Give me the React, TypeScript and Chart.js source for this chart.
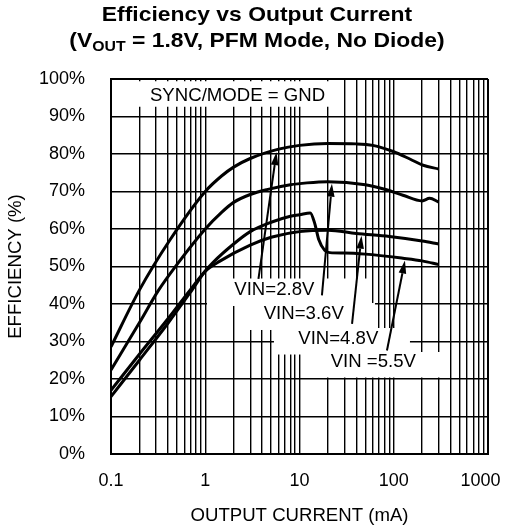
import { useEffect, useRef } from 'react';
import { Chart, registerables } from 'chart.js';

Chart.register(...registerables);

const FONT = '"Liberation Sans", Arial, Helvetica, sans-serif';

// Output current (mA) and efficiency (%) for each input voltage
const current28 = [0.1, 0.2, 0.42, 1, 1.5, 2, 3, 6, 10, 20, 40, 60, 100, 150, 205, 300];
const eff28 = [28.6, 43.7, 57, 70, 74.2, 76.5, 78.8, 81.3, 82.3, 82.8, 82.7, 82.3, 80.6, 78.6, 77, 76];

const current36 = [0.1, 0.2, 0.32, 0.5, 1, 1.5, 2, 3, 4.5, 8, 12, 20, 50, 80, 125, 200, 240, 300];
const eff36 = [22.4, 35, 43.7, 50.5, 60, 64.5, 67.1, 69.2, 70.5, 71.8, 72.3, 72.6, 71.8, 70.6, 69, 67.5, 68.2, 67.2];

const current48 = [0.1, 0.2, 0.4, 0.69, 1, 1.4, 3, 5, 10, 20, 40, 90, 200, 300];
const eff48 = [17, 26.6, 36, 43.7, 48.7, 51.3, 55.7, 57.8, 59.3, 59.7, 58.8, 58, 56.8, 56];

const current55 = [0.1, 0.2, 0.4, 0.69, 1, 1.2, 2, 3, 5, 8, 10, 13, 14.5, 16, 18.5, 21, 30, 50, 125, 200, 300];
const eff55 = [15.3, 25, 34.8, 43, 48.8, 51, 56, 59.3, 61.8, 63.4, 63.8, 64.3, 61.5, 57.2, 54.3, 53.7, 53.6, 53.3, 52.2, 51.5, 50.5];

const seriesNames = ['VIN=2.8V', 'VIN=3.6V', 'VIN=4.8V', 'VIN =5.5V'];
const seriesCurrents = [current28, current36, current48, current55];
const seriesEffs = [eff28, eff36, eff48, eff55];

// Axis ticks
const xLabelValues = [0.1, 1, 10, 100, 1000];
const xLabelTexts = ['0.1', '1', '10', '100', '1000'];
const yTickStep = 10;

// Log grid: 1..9 in every decade, plus the end value
const xGridValues: number[] = [];
for (let d = 0; d < 4; d++) {
  for (let m = 1; m <= 9; m++) xGridValues.push(Number((m * Math.pow(10, d - 1)).toPrecision(3)));
}
xGridValues.push(1000);

// Notes inside the plot, placed in data units: [mA, %]
const noteTexts = ['SYNC/MODE = GND', 'VIN=2.8V', 'VIN=3.6V', 'VIN=4.8V', 'VIN =5.5V'];
const noteAt = [
  [2.2, 95.6],
  [5.41, 43.65],
  [11.1, 37.41],
  [25.8, 30.75],
  [60.7, 24.53],
];
// White panels behind the notes: [mA from, mA to, % top, % bottom]
const notePanels = [
  [0.184, 25, 99.4, 92.6],
  [1.044, 56, 46.8, 39.47],
  [2.34, 63.2, 40.27, 33.07],
  [5.36, 148.6, 33.6, 26.53],
  [16.5, 358, 27.2, 20.4],
];
// Pointer arrows from each VIN note to its curve: [tail mA, tail %, tip mA, tip %]
const pointers = [
  [3.67, 46.7, 5.7, 80.5],
  [17.3, 42.3, 22.1, 72.1],
  [36.1, 34.7, 45.5, 58.2],
  [84.7, 27.6, 131.5, 51.6],
];

const notesPlugin = {
  id: 'notes',
  beforeDatasetsDraw(chart: any) {
    const { ctx, scales } = chart;
    const x = scales.x;
    const y = scales.y;
    ctx.save();
    ctx.fillStyle = '#fff';
    for (const [a, b, t, bt] of notePanels) {
      const px0 = x.getPixelForValue(a);
      const px1 = x.getPixelForValue(b);
      const py0 = y.getPixelForValue(t);
      const py1 = y.getPixelForValue(bt);
      ctx.fillRect(px0, py0, px1 - px0, py1 - py0);
    }
    ctx.restore();
  },
  afterDraw(chart: any) {
    const { ctx, scales } = chart;
    const x = scales.x;
    const y = scales.y;
    ctx.save();
    ctx.fillStyle = '#000';
    ctx.strokeStyle = '#000';

    // note texts
    ctx.font = `18.6px ${FONT}`;
    ctx.textAlign = 'center';
    ctx.textBaseline = 'middle';
    noteTexts.forEach((t, i) => {
      ctx.fillText(t, x.getPixelForValue(noteAt[i][0]), y.getPixelForValue(noteAt[i][1]));
    });

    // pointer arrows
    ctx.lineWidth = 2;
    for (const [tx, ty, hx, hy] of pointers) {
      const x0 = x.getPixelForValue(tx);
      const y0 = y.getPixelForValue(ty);
      const x1 = x.getPixelForValue(hx);
      const y1 = y.getPixelForValue(hy);
      const ang = Math.atan2(y1 - y0, x1 - x0);
      const len = 13;
      const half = 3.8;
      const bx = x1 - Math.cos(ang) * len;
      const by = y1 - Math.sin(ang) * len;
      ctx.beginPath();
      ctx.moveTo(x0, y0);
      ctx.lineTo(bx, by);
      ctx.stroke();
      ctx.beginPath();
      ctx.moveTo(x1, y1);
      ctx.lineTo(bx + Math.sin(ang) * half, by - Math.cos(ang) * half);
      ctx.lineTo(bx - Math.sin(ang) * half, by + Math.cos(ang) * half);
      ctx.closePath();
      ctx.fill();
    }

    // chart title, two lines, the second with a subscript
    const sx = 1.09;
    const cx = 257;
    ctx.textAlign = 'left';
    ctx.textBaseline = 'alphabetic';
    const big = `bold 21px ${FONT}`;
    const small = `bold 14.5px ${FONT}`;
    const line1 = 'Efficiency vs Output Current';
    ctx.font = big;
    const w1 = ctx.measureText(line1).width * sx;
    ctx.save();
    ctx.translate(cx - w1 / 2, 20.8);
    ctx.scale(sx, 1);
    ctx.fillText(line1, 0, 0);
    ctx.restore();

    const parts: [string, string, number][] = [
      ['(V', big, 0],
      ['OUT', small, 4],
      [' = 1.8V, PFM Mode, No Diode)', big, 0],
    ];
    let total = 0;
    for (const [t, f] of parts) {
      ctx.font = f;
      total += ctx.measureText(t).width;
    }
    ctx.save();
    ctx.translate(cx - (total * sx) / 2, 47.2);
    ctx.scale(sx, 1);
    let px = 0;
    for (const [t, f, dy] of parts) {
      ctx.font = f;
      ctx.fillText(t, px, dy);
      px += ctx.measureText(t).width;
    }
    ctx.restore();

    ctx.restore();
  },
};

export default function App() {
  const ref = useRef<HTMLCanvasElement>(null);

  useEffect(() => {
    const canvas = ref.current;
    if (!canvas) return;
    const lastGrid = xGridValues.length - 1;
    const chart = new Chart(canvas, {
      type: 'line',
      data: {
        datasets: seriesNames.map((name, i) => ({
          label: name,
          data: seriesCurrents[i].map((c, j) => ({ x: c, y: seriesEffs[i][j] })),
          borderColor: '#000',
          borderWidth: 3,
          pointRadius: 0,
          fill: false,
          cubicInterpolationMode: 'monotone' as const,
        })),
      },
      options: {
        animation: false,
        responsive: true,
        maintainAspectRatio: false,
        layout: { padding: { top: 79, right: 22, bottom: 0, left: 0 } },
        plugins: {
          legend: { display: false },
          tooltip: { enabled: false },
        },
        scales: {
          x: {
            type: 'logarithmic',
            min: 0.1,
            max: 1000,
            afterFit: (s: any) => {
              s.height = 75;
              s.paddingLeft = 0;
              s.paddingRight = 0;
            },
            afterBuildTicks: (s: any) => {
              s.ticks = xGridValues.map((v) => ({ value: v }));
            },
            grid: {
              color: '#000',
              lineWidth: (c: any) => (c.index === 0 || c.index === lastGrid ? 2 : 1.4),
              drawTicks: false,
            },
            border: { display: true, color: '#000', width: 2 },
            ticks: {
              autoSkip: false,
              maxRotation: 0,
              padding: 16,
              color: '#000',
              font: { family: FONT, size: 18 },
              callback: (v: any) => {
                const k = xLabelValues.findIndex((t) => Math.abs(t - Number(v)) < 1e-9 * Math.max(1, t));
                if (k < 0) return '';
                // the last label sits a little inside the right edge
                return k === xLabelValues.length - 1 ? `${xLabelTexts[k]}   ` : xLabelTexts[k];
              },
            },
            title: {
              display: true,
              text: 'OUTPUT CURRENT (mA)',
              color: '#000',
              font: { family: FONT, size: 18.6 },
              padding: { top: 0, bottom: 2 },
            },
          },
          y: {
            min: 0,
            max: 100,
            afterFit: (s: any) => {
              s.width = 111;
              s.paddingTop = 0;
              s.paddingBottom = 0;
            },
            grid: {
              color: '#000',
              lineWidth: (c: any) => (c.index === 0 || c.index === 10 ? 2 : 1.4),
              drawTicks: false,
            },
            border: { display: true, color: '#000', width: 2 },
            ticks: {
              stepSize: yTickStep,
              padding: 26,
              color: '#000',
              font: { family: FONT, size: 18 },
              callback: (v: any) => `${v}%`,
            },
            title: {
              display: true,
              text: 'EFFICIENCY (%)',
              color: '#000',
              font: { family: FONT, size: 18.6 },
              padding: { top: 5, bottom: 4 },
            },
          },
        },
      } as any,
      plugins: [notesPlugin],
    });
    return () => chart.destroy();
  }, []);

  return (
    <div style={{ position: 'fixed', left: 0, top: 0, width: 510, height: 529, background: '#fff' }}>
      <canvas ref={ref} />
    </div>
  );
}
